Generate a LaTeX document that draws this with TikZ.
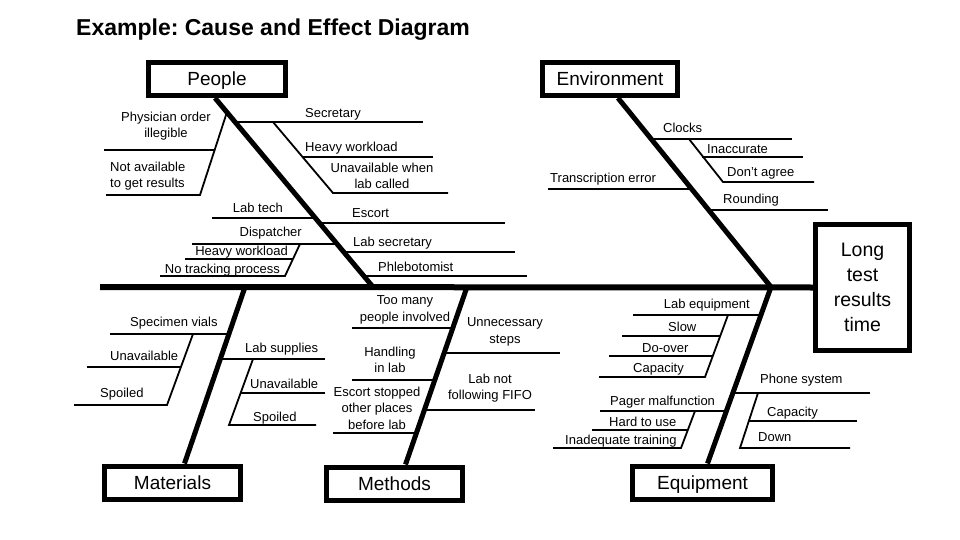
\documentclass[tikz,border=0pt]{standalone}
\usepackage{fontspec}
\setmainfont{Liberation Sans}
\frenchspacing
\usetikzlibrary{positioning, calc}
\tikzset{every node/.append style={align=center, inner sep=0pt}}

\begin{document}
\begin{tikzpicture}[x=1pt, y=-1pt,
    cat/.style={rectangle, draw=black, line width=5pt, fill=white, minimum height=33pt, text height=15pt, text depth=1.4pt, font=\fontsize{19}{22}\selectfont},
    bone/.style={line width=5pt, black, line join=miter},
    twig/.style={line width=1.8pt, black},
    lbl/.style={font=\fontsize{13}{16.5}\selectfont},
    lw/.style={lbl, anchor=base west},
    le/.style={lbl, anchor=base east}]
\useasboundingbox (0,0) rectangle (960,540);
\node[anchor=base west, font=\fontsize{23}{27}\selectfont\bfseries] (title) at (76,36) {Example: Cause and Effect Diagram};

\coordinate (tail) at (100,287);
\coordinate (pj) at (373,287);
\coordinate (ej) at (771,287);
\coordinate (mj) at (245,287);
\coordinate (hj) at (467,287);

\node[cat, minimum width=137pt] (people) at (217,79) {People};
\node[cat, minimum width=135pt] (env) at (610,79) {Environment};
\node[cat, minimum width=136pt] (mat) at (172.5,482.5) {Materials};
\node[cat, minimum width=136pt] (meth) at (394.5,483.5) {Methods};
\node[cat, minimum width=140pt] (equip) at (702.5,482.5) {Equipment};
\node[cat, minimum width=94pt, minimum height=126pt, text height=, text depth=, font=\fontsize{19.5}{25}\selectfont] (effect) at (862.5,287.5) {Long\\test\\results\\time};

\draw[line width=6pt] (tail) -- (effect.west);
\draw[bone] ([xshift=-2pt]people.south) -- (pj);
\draw[bone] ([xshift=8pt]env.south) -- (ej) -- ([xshift=5pt]equip.north);
\draw[bone] (mj) -- ([xshift=12pt]mat.north);
\draw[bone] (hj) -- ([xshift=11pt]meth.north);

\draw[twig] (227,112) -- (200,195) -- (106,195);
\draw[twig] (104,150) -- (215,150);
\draw[twig] (235,122) -- (423,122);
\draw[twig] (273,122) -- (333,193) -- (448,193);
\draw[twig] (303,157) -- (433,157);
\draw[twig] (212,218) -- (315,218);
\draw[twig] (320,223) -- (505,223);
\draw[twig] (192,244) -- (337,244);
\draw[twig] (344,252) -- (515,252);
\draw[twig] (185,259) -- (293,259);
\draw[twig] (300,244) -- (285,276) -- (160,276);
\draw[twig] (364,276) -- (527,276);
\node[lbl] (phys) at (166,126) {Physician order\\illegible};
\node[lbl, align=left, anchor=west] (notav) at (110,176) {Not available\\to get results};
\node[lw] (secr) at (305,118) {Secretary};
\node[lw] (heavy1) at (305,152) {Heavy workload};
\node[lbl] (unav) at (382,176) {Unavailable when\\lab called};
\node[le] (labtech) at (283,212.5) {Lab tech};
\node[lw] (escort) at (352,217.5) {Escort};
\node[le] (disp) at (302,236.5) {Dispatcher};
\node[lw] (labsec) at (353,246.5) {Lab secretary};
\node[le] (heavy2) at (288,255.5) {Heavy workload};
\node[le] (notrack) at (280,273) {No tracking process};
\node[lw] (phleb) at (378,271) {Phlebotomist};

\draw[twig] (651,139) -- (792,139);
\draw[twig] (689,139) -- (723,182) -- (814,182);
\draw[twig] (702,157) -- (803,157);
\draw[twig] (548,189) -- (692,189);
\draw[twig] (709,210) -- (828,210);
\node[lw] (clocks) at (663,132.5) {Clocks};
\node[lw] (inacc) at (707,153.5) {Inaccurate};
\node[lw] (dont) at (727,176.5) {Don't agree};
\node[lw] (transc) at (550,182.5) {Transcription error};
\node[lw] (round) at (723,203.5) {Rounding};

\draw[twig] (110,334) -- (229,334);
\draw[twig] (193,334) -- (167,405) -- (74,405);
\draw[twig] (87,367) -- (181,367);
\draw[twig] (220,359) -- (325,359);
\draw[twig] (253,359) -- (229,425) -- (316,425);
\draw[twig] (241,393) -- (325,393);
\node[lw] (vials) at (130,326.5) {Specimen vials};
\node[lw] (unav1) at (110,360.5) {Unavailable};
\node[lw] (spoil1) at (100,397.5) {Spoiled};
\node[lw] (supp) at (245,352.5) {Lab supplies};
\node[lw] (unav2) at (250,388.5) {Unavailable};
\node[lw] (spoil2) at (253,421.5) {Spoiled};

\draw[twig] (352,328) -- (453,328);
\draw[twig] (444,353) -- (560,353);
\draw[twig] (352,380) -- (434,380);
\draw[twig] (424,410) -- (535,410);
\draw[twig] (333,433) -- (416,433);
\node[lbl] (toomany) at (405,310) {Too many\\people involved};
\node[lbl] (unnec) at (505,332) {Unnecessary\\steps};
\node[lbl] (handl) at (390,360) {Handling\\in lab};
\node[lbl] (fifo) at (490,388) {Lab not\\following FIFO};
\node[lbl] (stopped) at (377,408) {Escort stopped\\other places\\before lab};

\draw[twig] (633,315) -- (761,315);
\draw[twig] (728,315) -- (705,377) -- (599,377);
\draw[twig] (622,336) -- (720,336);
\draw[twig] (609,356) -- (713,356);
\draw[twig] (600,411) -- (727,411);
\draw[twig] (695,411) -- (681,448) -- (553,448);
\draw[twig] (592,430) -- (688,430);
\draw[twig] (733,393) -- (870,393);
\draw[twig] (758,393) -- (740,448) -- (850,448);
\draw[twig] (749,421) -- (857,421);
\node[le] (labeq) at (750,308.5) {Lab equipment};
\node[lw] (slow) at (668,331.5) {Slow};
\node[lw] (doover) at (642,352.5) {Do-over};
\node[lw] (cap1) at (633,372.5) {Capacity};
\node[lw] (pager) at (610,405.5) {Pager malfunction};
\node[lw] (hard) at (609,426.5) {Hard to use};
\node[lw] (train) at (565,444.5) {Inadequate training};
\node[lw] (phone) at (760,383.5) {Phone system};
\node[lw] (cap2) at (767,416.5) {Capacity};
\node[lw] (down) at (758,441.5) {Down};
\end{tikzpicture}
\end{document}
